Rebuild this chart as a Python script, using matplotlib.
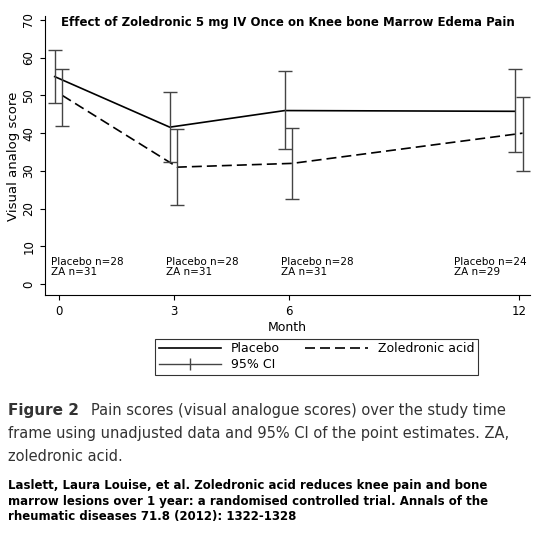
import matplotlib
matplotlib.use("Agg")
import matplotlib.pyplot as plt
from matplotlib.lines import Line2D

months = [0, 3, 6, 12]
placebo = [55, 41.6, 46, 45.8]
placebo_lo = [48, 32.4, 35.8, 35]
placebo_hi = [62, 50.8, 56.5, 57]
za = [50, 31, 32, 40]
za_lo = [42, 21, 22.5, 30]
za_hi = [57, 41, 41.5, 49.5]
n_labels = ["Placebo n=28\nZA n=31", "Placebo n=28\nZA n=31", "Placebo n=28\nZA n=31", "Placebo n=24\nZA n=29"]

fig = plt.figure(figsize=(5.5, 5.42), dpi=100)
ax = fig.add_axes([0.082, 0.455, 0.882, 0.515])
off = 0.1
xp = [m - off for m in months]
xz = [m + off for m in months]
ax.plot(xp, placebo, color="black", lw=1.2)
ax.plot(xz, za, color="black", lw=1.2, ls=(0, (6, 3)))
ax.errorbar(xp, placebo, yerr=[[p - l for p, l in zip(placebo, placebo_lo)], [h - p for p, h in zip(placebo, placebo_hi)]],
            fmt="none", ecolor="#444444", elinewidth=1, capsize=5)
ax.errorbar(xz, za, yerr=[[p - l for p, l in zip(za, za_lo)], [h - p for p, h in zip(za, za_hi)]],
            fmt="none", ecolor="#444444", elinewidth=1, capsize=5)
for m, t in zip(months, n_labels):
    ax.text(m - 0.2 if m < 12 else m - 1.7, 2, t, fontsize=7.5, va="bottom", ha="left", linespacing=1.0)
ax.set_xlim(-0.35, 12.3)
ax.set_ylim(-3, 71)
ax.set_xticks(months)
ax.set_yticks(range(0, 71, 10))
ax.tick_params(axis="y", labelrotation=90, labelsize=8.5)
ax.tick_params(axis="x", labelsize=8.5)
for lbl in ax.get_yticklabels():
    lbl.set_va("center")
ax.spines["top"].set_visible(False)
ax.spines["right"].set_visible(False)
ax.set_xlabel("Month", fontsize=9, labelpad=2)
ax.set_ylabel("Visual analog score", fontsize=9.5, labelpad=2)
ax.text(0.5, 1.0, "Effect of Zoledronic 5 mg IV Once on Knee bone Marrow Edema Pain",
        transform=ax.transAxes, ha="center", va="top", fontsize=8.5, fontweight="bold")

h_pl = Line2D([], [], color="black", lw=1.2)
h_za = Line2D([], [], color="black", lw=1.2, ls=(0, (6, 3)))
h_ci = Line2D([], [], color="#444444", lw=1, marker="|", markersize=8)
leg = fig.legend([h_pl, h_ci, h_za], ["Placebo", "95% CI", "Zoledronic acid"], ncol=2, loc="center",
                 bbox_to_anchor=(0.575, 0.342), fontsize=9, frameon=True, fancybox=False,
                 edgecolor="black", handlelength=5, columnspacing=2, borderpad=0.3, labelspacing=0.2)
leg.get_frame().set_linewidth(0.8)

fig.text(0.015, 0.243, "Figure 2", fontsize=11, fontweight="bold", color="#333333", va="center")
fig.text(0.165, 0.243, "Pain scores (visual analogue scores) over the study time",
         fontsize=10.5, color="#333333", va="center")
fig.text(0.015, 0.2, "frame using unadjusted data and 95% CI of the point estimates. ZA,",
         fontsize=10.5, color="#333333", va="center")
fig.text(0.015, 0.158, "zoledronic acid.", fontsize=10.5, color="#333333", va="center")
fig.text(0.015, 0.075, "Laslett, Laura Louise, et al. Zoledronic acid reduces knee pain and bone\n"
         "marrow lesions over 1 year: a randomised controlled trial. Annals of the\n"
         "rheumatic diseases 71.8 (2012): 1322-1328",
         fontsize=8.5, fontweight="bold", va="center", linespacing=1.25)
fig.savefig("out.png", dpi=100)
